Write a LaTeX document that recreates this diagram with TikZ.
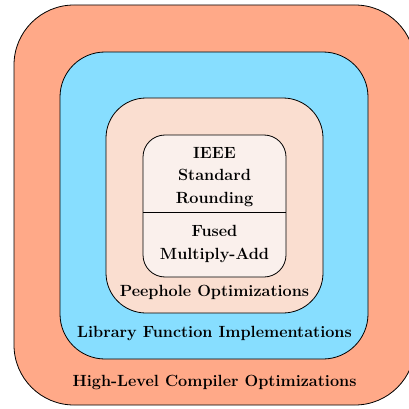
\documentclass[tikz,border=0pt]{standalone}
\usepackage{fontspec}
\begin{document}
\begin{tikzpicture}[x=1pt,y=-1pt,
  layer/.style={draw=black,line width=0.8pt},
  lbl/.style={font=\bfseries\fontsize{16.2}{22.5}\selectfont,inner sep=0pt,align=center}]
\definecolor{outerc}{RGB}{255,169,136}
\definecolor{bluec}{RGB}{135,222,255}
\definecolor{peachc}{RGB}{250,222,208}
\definecolor{innerc}{RGB}{250,240,236}
\useasboundingbox (0,0) rectangle (409,409);
\clip (0,0) rectangle (409,409);
\draw[layer,fill=outerc,rounded corners=60pt] (14,5) rectangle (415,405);
\draw[layer,fill=bluec,rounded corners=45pt] (60,52) rectangle (368,359);
\draw[layer,fill=peachc,rounded corners=40pt] (106,98) rectangle (323,313);
\draw[layer,fill=innerc,rounded corners=22pt] (143,135) rectangle (286,277);
\coordinate (dl) at (143,212);
\coordinate (dr) at (286,212);
\draw[layer] (dl) -- (dr);
\node[lbl,anchor=base] (hl) at (214.5,386) {High-Level Compiler Optimizations};
\node[lbl,anchor=base] (lf) at (214.5,337) {Library Function Implementations};
\node[lbl,anchor=base] (po) at (214.5,296) {Peephole Optimizations};
\node[lbl] (ieee) at (214.5,176.7) {IEEE\\Standard\\Rounding};
\node[lbl] (fma) at (214.5,244.2) {Fused\\Multiply-Add};
\end{tikzpicture}
\end{document}
